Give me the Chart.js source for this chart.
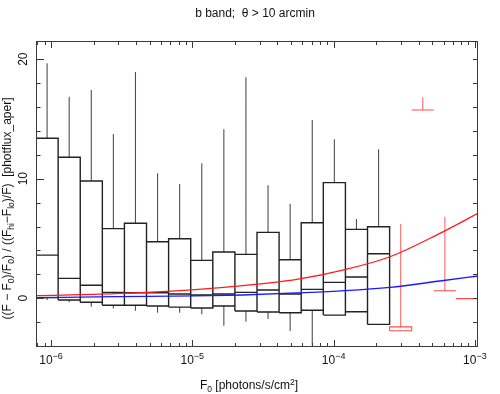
<!DOCTYPE html>
<html><head><meta charset="utf-8">
<script src="https://cdn.jsdelivr.net/npm/chart.js@4/dist/chart.umd.min.js"></script>
<style>html,body{margin:0;padding:0;background:#fff}#wrap{width:500px;height:394px}</style>
</head><body><div id="wrap"><canvas id="c" width="500" height="394"></canvas></div>
<script>
// ---- data ----
const binFlux = [9.38e-7, 1.345e-6, 1.928e-6, 2.763e-6, 3.960e-6, 5.677e-6, 8.137e-6, 1.167e-5, 1.672e-5, 2.397e-5,
                 3.436e-5, 4.926e-5, 7.063e-5, 1.0125e-4, 1.4516e-4, 2.081e-4, 2.983e-4, 4.276e-4, 6.130e-4, 8.788e-4];
const whiskerLow  = [-0.15, -0.34, -0.71, -0.85, -1.05, -1.21, -1.21, -1.35, -2.30, -1.96, -1.74, -2.74, -3.93, -1.41, -1.13, -2.19, -2.72, 15.75, 0.63, -0.03];
const quartile1   = [ 0.05, -0.15, -0.34, -0.59, -0.59, -0.65, -0.74, -0.82, -0.65, -1.07, -1.15, -1.21, -1.01, -1.41, -1.13, -2.19, -2.72, 15.75, 0.63, -0.03];
const medians     = [ 3.61,  1.66,  1.08,  0.49,  0.46,  0.46,  0.35,  0.27,  0.35,  0.49,  0.69,  0.35,  0.74,  1.33,  1.78,  3.72, -2.40, 15.75, 0.63, -0.03];
const quartile3   = [13.38, 11.79,  9.81,  5.82,  6.27,  4.73,  4.98,  3.17,  3.87,  3.67,  5.51,  3.22,  6.32,  9.67,  5.76,  5.98, -2.40, 15.75, 0.63, -0.03];
const whiskerHigh = [19.66, 16.86, 17.42, 13.74, 18.93, 10.45,  9.56, 11.29, 14.13, 18.48,  9.45,  7.91, 14.91, 13.30,  6.63, 12.46,  6.21, 16.81, 6.82, -0.03];
const sparseBin   = [false,false,false,false,false,false,false,false,false,false,false,false,false,false,false,false,true,true,true,true];

const curveFlux = [7.83e-7, 2.84e-6, 1.045e-5, 2.285e-5, 5.48e-5, 1.205e-4, 2.506e-4, 5.66e-4, 1.052e-3];
const redCurve  = [0.22, 0.38, 0.72, 1.05, 1.58, 2.40, 3.47, 5.43, 7.10];
const blueCurve = [0.05, 0.13, 0.19, 0.27, 0.44, 0.63, 0.91, 1.44, 1.86];

const xTickValues = [1e-6, 1e-5, 1e-4, 1e-3];
const xTickBase = ['10', '10', '10', '10'];
const xTickExp = ['\u22126', '\u22125', '\u22124', '\u22123'];
const yTickValues = [0, 10, 20];
const yTickLabels = ['0', '10', '20'];

// ---- build line paths for the boxes ----
const HALF_DEX = 0.0782;
function boxPath(filter) {
  const pts = [];
  binFlux.forEach((f, i) => {
    if (!filter(i)) return;
    const lo = f / Math.pow(10, HALF_DEX), hi = f * Math.pow(10, HALF_DEX);
    pts.push({x: lo, y: quartile1[i]}, {x: lo, y: quartile3[i]}, {x: hi, y: quartile3[i]}, {x: hi, y: quartile1[i]}, {x: lo, y: quartile1[i]}, {x: f, y: null});
    pts.push({x: lo, y: medians[i]}, {x: hi, y: medians[i]}, {x: f, y: null});
  });
  return pts;
}
function whiskerPath(filter) {
  const pts = [];
  binFlux.forEach((f, i) => {
    if (!filter(i)) return;
    if (whiskerHigh[i] > quartile3[i]) pts.push({x: f, y: quartile3[i]}, {x: f, y: whiskerHigh[i]}, {x: f, y: null});
    if (whiskerLow[i] < quartile1[i]) pts.push({x: f, y: quartile1[i]}, {x: f, y: whiskerLow[i]}, {x: f, y: null});
  });
  return pts;
}
const normal = i => !sparseBin[i];
const sparse = i => sparseBin[i];

const FONT = '"Liberation Sans", Arial, Helvetica, sans-serif';

function richText(ctx, segs, x, y, align) {
  let w = 0;
  segs.forEach(s => { ctx.font = s.size + 'px ' + FONT; s.w = ctx.measureText(s.t).width; w += s.w; });
  let cx = align === 'center' ? x - w / 2 : x;
  segs.forEach(s => { ctx.font = s.size + 'px ' + FONT; ctx.fillText(s.t, cx, y + (s.dy || 0)); cx += s.w; });
  return w;
}

const framePlugin = {
  id: 'frame',
  afterDatasetsDraw(chart) {
    const {ctx, chartArea: a, scales: {x, y}} = chart;
    ctx.save();
    ctx.strokeStyle = '#3a3a3a';
    ctx.lineWidth = 1;
    ctx.strokeRect(a.left + 0.5, a.top + 0.5, a.right - a.left - 1, a.bottom - a.top - 1);
    ctx.beginPath();
    for (let d = -7; d <= -3; d++) {
      for (let m = 1; m <= 9; m++) {
        const v = m * Math.pow(10, d);
        if (v < x.min || v > x.max) continue;
        const px = Math.round(x.getPixelForValue(v)) + 0.5;
        const len = m === 1 ? 7 : 4;
        ctx.moveTo(px, a.bottom); ctx.lineTo(px, a.bottom - len);
        ctx.moveTo(px, a.top); ctx.lineTo(px, a.top + len);
      }
    }
    for (let v = -4; v <= 21; v += 2) {
      if (v < y.min || v > y.max) continue;
      const py = Math.round(y.getPixelForValue(v)) + 0.5;
      const major = v % 10 === 0;
      ctx.moveTo(a.left, py); ctx.lineTo(a.left + (major ? 8 : 4.5), py);
      ctx.moveTo(a.right, py); ctx.lineTo(a.right - 5, py);
    }
    ctx.stroke();

    ctx.fillStyle = '#111';
    ctx.textBaseline = 'alphabetic';
    ctx.textAlign = 'left';
    xTickValues.forEach((v, i) => {
      const px = x.getPixelForValue(v);
      richText(ctx, [{t: xTickBase[i], size: 12}, {t: xTickExp[i], size: 9, dy: -5}], px, 363.5, 'center');
    });
    yTickValues.forEach((v, i) => {
      const py = y.getPixelForValue(v);
      ctx.save();
      ctx.translate(27, py);
      ctx.rotate(-Math.PI / 2);
      ctx.textAlign = 'center';
      ctx.font = '12px ' + FONT;
      ctx.fillText(yTickLabels[i], 0, 0);
      ctx.restore();
    });
    ctx.textAlign = 'left';
    richText(ctx, [{t: 'b band;  \u03b8 > 10 arcmin', size: 12}], 255, 16.5, 'center');
    richText(ctx, [{t: 'F', size: 12}, {t: '0', size: 8.5, dy: 3}, {t: ' [photons/s/cm', size: 12}, {t: '2', size: 8.5, dy: -4.5}, {t: ']', size: 12}], 249, 389, 'center');
    ctx.save();
    ctx.translate(11, 208.5);
    ctx.rotate(-Math.PI / 2);
    richText(ctx, [
      {t: '((F \u2212 F', size: 12}, {t: '0', size: 8.5, dy: 3}, {t: ')/F', size: 12}, {t: '0', size: 8.5, dy: 3},
      {t: ') / ((F', size: 12}, {t: 'hi', size: 8.5, dy: 3}, {t: '\u2212F', size: 12}, {t: 'lo', size: 8.5, dy: 3},
      {t: ')/F)  [photflux_aper]', size: 12}], 0, 0, 'center');
    ctx.restore();
    ctx.restore();
  }
};

const line = (data, color, width, order) => ({
  data, borderColor: color, borderWidth: width, pointRadius: 0, showLine: true,
  spanGaps: false, tension: 0, fill: false, order
});

new Chart(document.getElementById('c'), {
  type: 'scatter',
  data: {
    datasets: [
      Object.assign(line(curveFlux.map((f, i) => ({x: f, y: redCurve[i]})), '#ff1a1a', 1.3, 0), {cubicInterpolationMode: 'monotone'}),
      Object.assign(line(curveFlux.map((f, i) => ({x: f, y: blueCurve[i]})), '#1a1aff', 1.3, 0), {cubicInterpolationMode: 'monotone'}),
      line(boxPath(normal), '#222222', 1.4, 2),
      line(whiskerPath(normal), '#505050', 1.1, 2),
      line(boxPath(sparse), 'rgba(255,30,30,0.8)', 1.1, 1),
      line(whiskerPath(sparse), 'rgba(255,60,60,0.7)', 1.2, 1)
    ]
  },
  options: {
    responsive: false, animation: false, devicePixelRatio: 1,
    layout: {padding: {left: 36, right: 22, top: 41, bottom: 47}},
    plugins: {legend: {display: false}, tooltip: {enabled: false}, title: {display: false}},
    scales: {
      x: {type: 'logarithmic', min: 7.83e-7, max: 1.052e-3, display: false},
      y: {type: 'linear', min: -4.08, max: 21.52, display: false}
    }
  },
  plugins: [framePlugin]
});
</script>
</body></html>
